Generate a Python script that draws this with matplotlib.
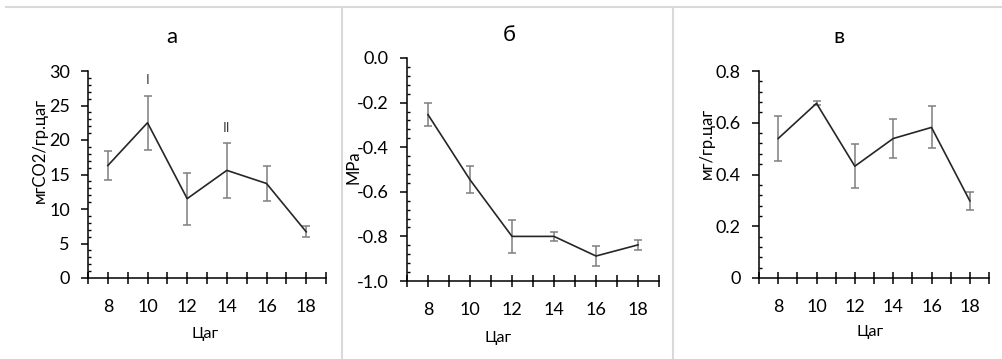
import matplotlib
matplotlib.use('Agg')
import matplotlib.pyplot as plt
from matplotlib.lines import Line2D
from matplotlib.ticker import MultipleLocator, FuncFormatter

plt.rcParams['font.family'] = ['Lato', 'DejaVu Sans']
plt.rcParams['axes.unicode_minus'] = False

hours = [8, 10, 12, 14, 16, 18]

resp = [16.3, 22.5, 11.5, 15.6, 13.7, 6.7]
resp_err = [2.1, 3.9, 3.75, 4.0, 2.6, 0.8]

wp = [-0.254, -0.546, -0.80, -0.80, -0.888, -0.838]
wp_err = [0.053, 0.06, 0.075, 0.02, 0.043, 0.024]

sugar = [0.539, 0.675, 0.432, 0.539, 0.582, 0.298]
sugar_err = [0.087, 0.008, 0.084, 0.074, 0.081, 0.035]

titles = ['а', 'б', 'в']
ylabels = ['мгCO2/гр.цаг', 'MPa', 'мг/гр.цаг']
xlabel = 'Цаг'

W, H = 1002, 359
fig = plt.figure(figsize=(W / 100, H / 100), dpi=100)


def px_axes(l, r, t, b):
    return fig.add_axes([l / W, 1 - b / H, (r - l) / W, (b - t) / H])


def style(ax, ylim, ymajor, yminor, yfmt):
    ax.set_xlim(7, 19)
    ax.set_ylim(*ylim)
    for s in ('top', 'right'):
        ax.spines[s].set_visible(False)
    for s in ('left', 'bottom'):
        ax.spines[s].set_color('black')
        ax.spines[s].set_linewidth(1.1)
    ax.xaxis.set_major_locator(MultipleLocator(1))
    ax.xaxis.set_major_formatter(FuncFormatter(
        lambda v, p: '%d' % v if int(round(v)) % 2 == 0 and 8 <= v <= 18 else ''))
    ax.yaxis.set_major_locator(MultipleLocator(ymajor))
    ax.yaxis.set_minor_locator(MultipleLocator(yminor))
    ax.yaxis.set_major_formatter(FuncFormatter(yfmt))
    ax.tick_params(axis='x', direction='inout', length=8, width=1.1,
                   labelsize=13, pad=11)
    ax.tick_params(axis='y', which='major', direction='out', length=5,
                   width=1.1, labelsize=13, pad=8)
    ax.tick_params(axis='y', which='minor', direction='in', length=2.5,
                   width=1.0)
    ax.patch.set_alpha(0)


def draw(ax, y, err):
    ax.errorbar(hours, y, yerr=err, color='#262626', lw=1.2,
                ecolor='#7f7f7f', elinewidth=1.1, capsize=3, capthick=1.1,
                zorder=3)


ax1 = px_axes(88, 326, 71, 278)
draw(ax1, resp, resp_err)
style(ax1, (0, 30), 5, 1, lambda v, p: '%d' % round(v))
ax1.text(10, 28.7, 'I', ha='center', va='center', fontsize=10, color='#404040')
ax1.text(14, 21.8, 'II', ha='center', va='center', fontsize=10, color='#404040')

ax2 = px_axes(407, 659, 58, 281)
draw(ax2, wp, wp_err)
style(ax2, (-1.0, 0.0), 0.2, 0.04, lambda v, p: '%.1f' % v if abs(v) > 1e-9 else '0.0')

ax3 = px_axes(759, 989, 71, 278)
draw(ax3, sugar, sugar_err)
style(ax3, (0, 0.8), 0.2, 0.04, lambda v, p: '0' if abs(v) < 1e-9 else '%.1f' % v)

# titles and axis labels
for x, y, t in [(172, 37, titles[0]), (509, 35, titles[1]), (839, 37, titles[2])]:
    fig.text(x / W, 1 - y / H, t, ha='center', va='center', fontsize=16)
for x, y in [(205, 334), (498, 338), (870, 332)]:
    fig.text(x / W, 1 - y / H, xlabel, ha='center', va='center', fontsize=11.5)
for x, y, t in [(40, 150, ylabels[0]), (353, 167, ylabels[1]), (707, 143, ylabels[2])]:
    fig.text(x / W, 1 - y / H, t, ha='center', va='center', rotation=90,
             fontsize=12)

# panel borders
sep = '#d9d9d9'
fig.add_artist(Line2D([6 / W, 1], [1 - 6.5 / H] * 2, color=sep, lw=1.5,
                      transform=fig.transFigure))
for xs in (341.5, 672.5):
    fig.add_artist(Line2D([xs / W] * 2, [0, 1 - 6.5 / H], color=sep, lw=1.5,
                          transform=fig.transFigure))

fig.savefig('out.png', dpi=100, facecolor='white')
